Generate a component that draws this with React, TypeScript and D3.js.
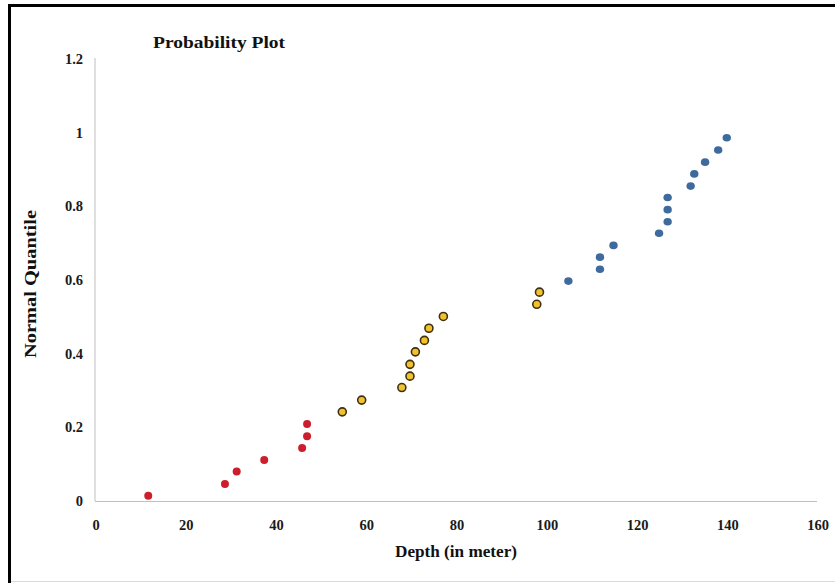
import React from "react";
import * as d3 from "d3";

const redDepth = [11.8, 28.8, 31.4, 37.5, 45.9, 47.0, 47.0];
const redQuantile = [0.014, 0.046, 0.08, 0.111, 0.144, 0.176, 0.209];
const yellowDepth = [54.8, 59.1, 68.0, 69.8, 69.8, 71.0, 73.0, 74.0, 77.2, 97.9, 98.5];
const yellowQuantile = [0.242, 0.274, 0.308, 0.339, 0.371, 0.405, 0.436, 0.469, 0.501, 0.534, 0.567];
const blueDepth = [104.9, 111.9, 111.9, 114.9, 125.0, 126.9, 126.9, 126.9, 132.0, 132.8, 135.2, 138.1, 140.0];
const blueQuantile = [0.597, 0.629, 0.662, 0.694, 0.727, 0.758, 0.791, 0.824, 0.855, 0.888, 0.92, 0.953, 0.986];
const xTicks = [0, 20, 40, 60, 80, 100, 120, 140, 160];
const yTicks = [0, 0.2, 0.4, 0.6, 0.8, 1, 1.2];

const W = 835;
const H = 583;
const FONT = "'Liberation Serif', 'DejaVu Serif', serif";

export default function App() {
  const x = d3.scaleLinear().domain([0, 160]).range([95, 817]);
  const y = d3.scaleLinear().domain([0, 1.2]).range([501, 59]);
  const red = redDepth.map((d, i) => [d, redQuantile[i]]);
  const yellow = yellowDepth.map((d, i) => [d, yellowQuantile[i]]);
  const blue = blueDepth.map((d, i) => [d, blueQuantile[i]]);
  const fmt = (v: number) => (v === 0 || v === 1 ? String(v) : d3.format(".1f")(v));

  return (
    <svg
      width={W}
      height={H}
      style={{ position: "absolute", left: 0, top: 0, background: "#fff" }}
    >
      <rect x={0} y={0} width={W} height={H} fill="#fff" />
      {/* frame */}
      <line x1={8} x2={W} y1={5.5} y2={5.5} stroke="#000" strokeWidth={3} />
      <line x1={9.5} x2={9.5} y1={4} y2={H} stroke="#000" strokeWidth={3} />
      <line x1={11} x2={W} y1={581.5} y2={581.5} stroke="#d9d9d9" strokeWidth={1} />

      {/* axes */}
      <line x1={x(0)} x2={x(0)} y1={y(1.2) - 1} y2={y(0)} stroke="#bfbfbf" strokeWidth={1} />
      <line x1={x(0)} x2={x(160)} y1={y(0) + 0.5} y2={y(0) + 0.5} stroke="#bfbfbf" strokeWidth={1} />

      {yTicks.map((t) => (
        <text
          key={"y" + t}
          x={83}
          y={y(t)}
          dy="0.35em"
          textAnchor="end"
          fontFamily={FONT}
          fontWeight="bold"
          fontSize={14.5}
          fill="#1a1a1a"
        >
          {fmt(t)}
        </text>
      ))}
      {xTicks.map((t) => (
        <text
          key={"x" + t}
          x={x(t) + 1}
          y={525}
          dy="0.35em"
          textAnchor="middle"
          fontFamily={FONT}
          fontWeight="bold"
          fontSize={14.5}
          fill="#1a1a1a"
        >
          {t}
        </text>
      ))}

      <text
        x={153}
        y={48}
        fontFamily={FONT}
        fontWeight="bold"
        fontSize={16}
        textLength={132}
        lengthAdjust="spacingAndGlyphs"
        fill="#111"
      >
        Probability Plot
      </text>
      <text
        x={456}
        y={557}
        textAnchor="middle"
        fontFamily={FONT}
        fontWeight="bold"
        fontSize={16}
        textLength={122}
        lengthAdjust="spacingAndGlyphs"
        fill="#111"
      >
        Depth (in meter)
      </text>
      <text
        transform="translate(36,284) rotate(-90)"
        textAnchor="middle"
        fontFamily={FONT}
        fontWeight="bold"
        fontSize={16}
        textLength={148}
        lengthAdjust="spacingAndGlyphs"
        fill="#111"
      >
        Normal  Quantile
      </text>

      {red.map((p, i) => (
        <circle key={"r" + i} cx={x(p[0])} cy={y(p[1])} r={4} fill="#cc1f2d" />
      ))}
      {yellow.map((p, i) => (
        <circle
          key={"yl" + i}
          cx={x(p[0])}
          cy={y(p[1])}
          r={4}
          fill="#f2c12e"
          stroke="#3d3010"
          strokeWidth={1.6}
        />
      ))}
      {blue.map((p, i) => (
        <ellipse key={"b" + i} cx={x(p[0])} cy={y(p[1])} rx={4.2} ry={3.8} fill="#3f6a9e" />
      ))}
    </svg>
  );
}
